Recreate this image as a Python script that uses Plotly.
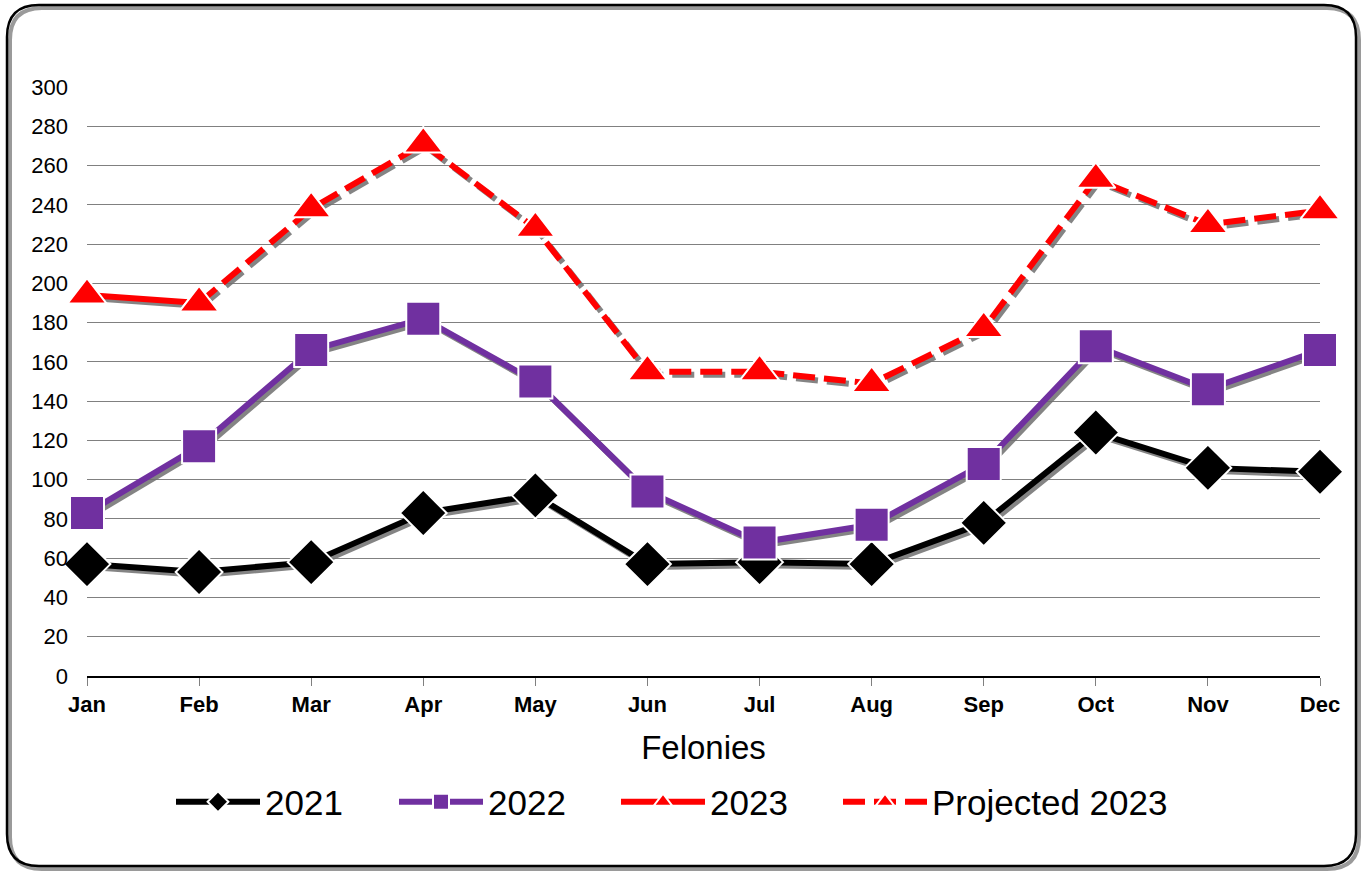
import plotly.graph_objects as go

months = ["Jan", "Feb", "Mar", "Apr", "May", "Jun", "Jul", "Aug", "Sep", "Oct", "Nov", "Dec"]
y2021 = [57, 53, 58, 83, 92, 57, 58, 57, 78, 124, 106, 104]
y2022 = [83, 117, 166, 182, 150, 94, 68, 77, 108, 168, 146, 166]
y2023 = [194, 190]
proj2023 = [None, 190, 238, 271, 228, 155, 155, 149, 177, 253, 230, 237]

W, H = 1362, 873
L, R, T, B = 87, 42, 87, 197
PW, PH = W - L - R, H - T - B
FONT = "Liberation Sans, Arial, sans-serif"

xs = list(range(len(months)))
# shadow offset (px -> data units)
dx = 3.0 / (PW / 11)
dy = -3.0 / (PH / 300)

def shift(vals, xv):
    px = [x + dx for x in xv]
    py = [None if v is None else v + dy for v in vals]
    return px, py

fig = go.Figure()

series = [
    ("2021", xs, y2021, "#000000", "diamond", 36, "solid", "legend", 171),
    ("2022", xs, y2022, "#7030A0", "square", 34, "solid", "legend2", 394),
    ("2023", xs[:len(y2023)], y2023, "#FF0000", "triangle-up", 34, "solid", "legend3", 616),
    ("Projected 2023", xs, proj2023, "#FF0000", "triangle-up", 34, "22px,9px", "legend4", 838),
]

# shadows
for name, xv, yv, col, sym, sz, dash, lg, lx in series:
    sx, sy = shift(yv, xv)
    fig.add_trace(go.Scatter(x=sx, y=sy, mode="lines", showlegend=False, hoverinfo="skip",
                             line=dict(color="rgba(110,110,110,0.85)", width=6, dash=dash),
                             cliponaxis=False))

for name, xv, yv, col, sym, sz, dash, lg, lx in series:
    fig.add_trace(go.Scatter(
        x=xv, y=yv, name=name, mode="lines+markers", legend=lg,
        line=dict(color=col, width=6, dash=dash),
        marker=dict(symbol=sym, size=sz, color=col, line=dict(color="white", width=2)),
        cliponaxis=False,
    ))

def px2paper(x, y):
    return (x - L) / PW, (H - B - y) / PH

def rrect(x0, y0, x1, y1, r):
    def P(x, y):
        a, b = px2paper(x, y)
        return f"{a:.5f},{b:.5f}"
    return (f"M {P(x0 + r, y0)} L {P(x1 - r, y0)} Q {P(x1, y0)} {P(x1, y0 + r)} "
            f"L {P(x1, y1 - r)} Q {P(x1, y1)} {P(x1 - r, y1)} "
            f"L {P(x0 + r, y1)} Q {P(x0, y1)} {P(x0, y1 - r)} "
            f"L {P(x0, y0 + r)} Q {P(x0, y0)} {P(x0 + r, y0)} Z")

shapes = [
    dict(type="path", xref="paper", yref="paper", path=rrect(10, 8, 1359, 869, 32),
         line=dict(color="#9a9a9a", width=4), layer="below"),
    dict(type="path", xref="paper", yref="paper", path=rrect(7, 5, 1356, 866, 32),
         line=dict(color="#000000", width=2.5), layer="below"),
]

legend_common = dict(orientation="h", xanchor="left", yanchor="middle",
                     y=(H - B - 802) / PH, font=dict(size=35), itemwidth=84,
                     bgcolor="rgba(0,0,0,0)")
legends = {}
for name, xv, yv, col, sym, sz, dash, lg, lx in series:
    legends[lg] = dict(legend_common, x=(lx - L) / PW)

fig.update_layout(
    width=W, height=H,
    margin=dict(l=L, r=R, t=T, b=B),
    paper_bgcolor="white", plot_bgcolor="white",
    font=dict(family=FONT, color="black"),
    shapes=shapes,
    xaxis=dict(
        range=[0, 11], tickmode="array", tickvals=xs, ticktext=months,
        tickfont=dict(size=22, family=FONT, weight="bold"),
        ticks="outside", ticklen=8, tickcolor="#808080",
        showgrid=False, zeroline=False,
        showline=True, linecolor="black", linewidth=1.5,
        title=dict(text="Felonies", font=dict(size=33), standoff=20),
    ),
    yaxis=dict(
        range=[0, 300], tickmode="array", tickvals=list(range(0, 301, 20)),
        tickfont=dict(size=22),
        showgrid=True, gridcolor="#808080", gridwidth=1,
        zeroline=False, showline=False, ticks="",
        ticklabelstandoff=18,
    ),
    **legends,
)

fig.write_html("out.html", config={"displayModeBar": False},
               post_script="document.body.style.margin='0px';")
